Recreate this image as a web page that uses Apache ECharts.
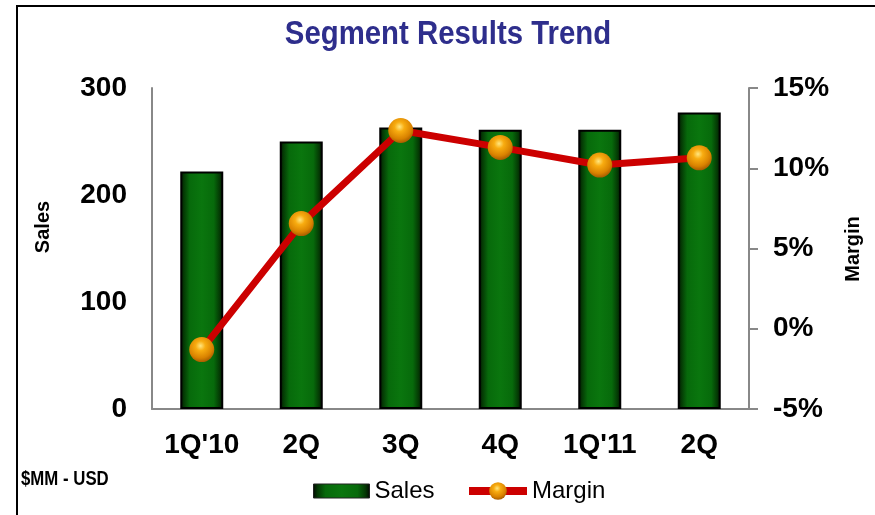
<!DOCTYPE html>
<html>
<head>
<meta charset="utf-8">
<script src="https://cdn.jsdelivr.net/npm/echarts@6/dist/echarts.min.js"></script>
<style>
  html, body { margin: 0; padding: 0; background: #fff; }
  #chart { width: 875px; height: 515px; }
</style>
</head>
<body>
<div id="chart"></div>
<script>
const quarters = ["1Q'10", '2Q', '3Q', '4Q', "1Q'11", '2Q']
const sales = [222, 250, 263, 261, 261, 277]
const margin = [-1.3, 6.55, 12.35, 11.3, 10.2, 10.65]
const salesTicks = { min: 0, max: 300, step: 100 }
const marginTicks = { min: -5, max: 15, step: 5 }

const sans = '"Liberation Sans", Arial, sans-serif'

const barFill = {
    type: 'linear', x: 0, y: 0, x2: 1, y2: 0,
    colorStops: [
        { offset: 0, color: '#010801' },
        { offset: 0.08, color: '#043804' },
        { offset: 0.22, color: '#076a0b' },
        { offset: 0.5, color: '#0a760e' },
        { offset: 0.78, color: '#076a0b' },
        { offset: 0.92, color: '#043804' },
        { offset: 1, color: '#010801' }
    ]
}

const ballFill = {
    type: 'radial', x: 0.45, y: 0.35, r: 0.65,
    colorStops: [
        { offset: 0, color: '#ffe680' },
        { offset: 0.3, color: '#f8ac10' },
        { offset: 0.75, color: '#d98200' },
        { offset: 1, color: '#a85d00' }
    ]
}

const legendText = { fontSize: 24, color: '#000', fontFamily: sans }

const chart = echarts.init(document.getElementById('chart'))

const option = {
    animation: false,
    backgroundColor: '#fff',
    grid: { left: 152, right: 126, top: 88, bottom: 106 },
    legend: [
        {
            left: 308, top: 474,
            icon: 'rect',
            itemWidth: 56, itemHeight: 14,
            textStyle: legendText,
            data: [{ name: 'Sales', itemStyle: { color: barFill, borderColor: '#222', borderWidth: 1 } }]
        },
        {
            left: 460, top: 474,
            itemWidth: 58, itemHeight: 22,
            textStyle: legendText,
            data: [{ name: 'Margin', lineStyle: { width: 8, color: '#cc0000' } }]
        }
    ],
    xAxis: {
        type: 'category',
        data: quarters,
        axisLine: { lineStyle: { color: '#888', width: 2 } },
        axisTick: { show: false },
        axisLabel: { fontSize: 28, fontWeight: 'bold', color: '#000', fontFamily: sans, margin: 22 }
    },
    yAxis: [
        {
            type: 'value',
            min: salesTicks.min, max: salesTicks.max, interval: salesTicks.step,
            axisLine: { show: true, lineStyle: { color: '#888', width: 2 } },
            axisTick: { show: false },
            splitLine: { show: false },
            axisLabel: { fontSize: 28, fontWeight: 'bold', color: '#000', fontFamily: sans, margin: 25 }
        },
        {
            type: 'value',
            min: marginTicks.min, max: marginTicks.max, interval: marginTicks.step,
            axisLine: { show: true, lineStyle: { color: '#888', width: 2 } },
            axisTick: { show: true, length: 9, lineStyle: { color: '#888', width: 2 } },
            splitLine: { show: false },
            axisLabel: {
                fontSize: 28, fontWeight: 'bold', color: '#000', fontFamily: sans, margin: 24,
                formatter: '{value}%'
            }
        }
    ],
    series: [
        {
            name: 'Sales',
            type: 'bar',
            data: sales,
            barWidth: 43,
            itemStyle: { color: barFill, borderColor: '#000', borderWidth: 2 }
        },
        {
            name: 'Margin',
            type: 'line',
            yAxisIndex: 1,
            data: margin,
            symbol: 'circle',
            symbolSize: 25,
            lineStyle: { color: '#cc0000', width: 7 },
            itemStyle: { color: ballFill, borderWidth: 0 },
            z: 3
        }
    ],
    graphic: [
        {
            type: 'rect', silent: true,
            shape: { x: 17, y: 6, width: 1000, height: 700 },
            style: { fill: 'none', stroke: '#000', lineWidth: 2 }
        },
        {
            type: 'text', x: 448, y: 35, scaleX: 0.89,
            style: {
                text: 'Segment Results Trend', fill: '#2e2e8c',
                font: 'bold 33px ' + sans, textAlign: 'center', textVerticalAlign: 'middle'
            }
        },
        {
            type: 'text', x: 43, y: 227, rotation: Math.PI / 2,
            style: {
                text: 'Sales', fill: '#000', font: 'bold 20px ' + sans,
                textAlign: 'center', textVerticalAlign: 'middle'
            }
        },
        {
            type: 'text', x: 853, y: 249, rotation: Math.PI / 2,
            style: {
                text: 'Margin', fill: '#000', font: 'bold 20px ' + sans,
                textAlign: 'center', textVerticalAlign: 'middle'
            }
        },
        {
            type: 'text', x: 21, y: 479, scaleX: 0.8,
            style: {
                text: '$MM - USD', fill: '#000', font: 'bold 21px ' + sans,
                textAlign: 'left', textVerticalAlign: 'middle'
            }
        }
    ]
}

chart.setOption(option)
</script>
</body>
</html>
